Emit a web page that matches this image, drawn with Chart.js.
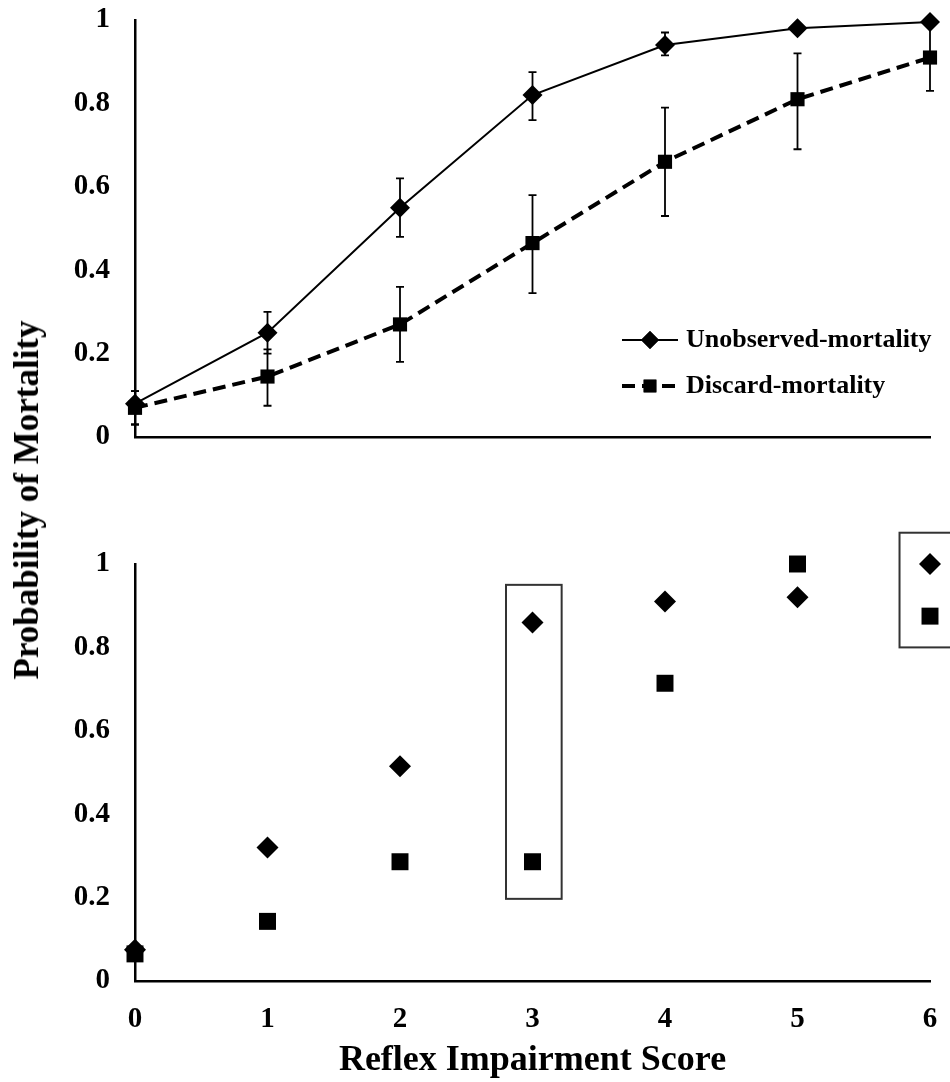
<!DOCTYPE html>
<html>
<head>
<meta charset="utf-8">
<script src="https://cdn.jsdelivr.net/npm/chart.js@4.4.0/dist/chart.umd.min.js"></script>
<style>
  html, body { margin: 0; padding: 0; background: #fff; }
  #wrap { position: relative; width: 950px; height: 1082px; overflow: hidden; }
  canvas { position: absolute; left: 0; }
  #top-chart { top: 0; }
  #bottom-chart { top: 520px; }
  .y-title {
    position: absolute; left: 27px; top: 500px;
    transform: translate(-50%, -50%) rotate(-90deg);
    font: bold 35px "Liberation Serif", serif;
    white-space: nowrap; color: #000;
  }
</style>
</head>
<body>
<div id="wrap">
  <canvas id="top-chart" width="950" height="460"></canvas>
  <canvas id="bottom-chart" width="950" height="562"></canvas>
  <div class="y-title">Probability of Mortality</div>
</div>
<script>
// --- Data ---
const scores = [0, 1, 2, 3, 4, 5, 6];
const yTicks = [0, 0.2, 0.4, 0.6, 0.8, 1];

// top panel: modelled curves with error bars
const unobservedModel = [0.08, 0.25, 0.55, 0.82, 0.94, 0.98, 0.995];
const unobservedLow   = [0.03, 0.20, 0.48, 0.76, 0.915, 0.98, 0.995];
const unobservedHigh  = [0.11, 0.30, 0.62, 0.875, 0.97, 0.98, 0.995];
const discardModel = [0.07, 0.145, 0.27, 0.465, 0.66, 0.81, 0.91];
const discardLow   = [0.03, 0.075, 0.18, 0.345, 0.53, 0.69, 0.83];
const discardHigh  = [0.11, 0.21, 0.36, 0.58, 0.79, 0.92, 0.99];

// bottom panel: observed proportions
const unobservedObserved = [0.075, 0.32, 0.515, 0.86, 0.91, 0.92, 1.0];
const discardObserved    = [0.065, 0.143, 0.286, 0.286, 0.714, 1.0, 0.875];

// highlight boxes in the bottom panel (data units)
const boxXMin = [2.8, 5.77];
const boxXMax = [3.22, 6.5];
const boxYMin = [0.197, 0.80];
const boxYMax = [0.95, 1.075];

const serif = "'Liberation Serif', 'Times New Roman', serif";
const toPoints = vals => scores.map((x, i) => ({ x: x, y: vals[i] }));

// --- Plugins ---
const errorBars = {
    id: 'errorBars',
    beforeDatasetsDraw(chart) {
        const { ctx, scales: { x, y } } = chart;
        const series = [[unobservedLow, unobservedHigh], [discardLow, discardHigh]];
        ctx.save();
        ctx.strokeStyle = '#000';
        ctx.lineWidth = 1.8;
        series.forEach(([low, high]) => {
            scores.forEach((s, i) => {
                if (high[i] <= low[i]) return;
                const px = x.getPixelForValue(s);
                const yl = y.getPixelForValue(low[i]);
                const yh = y.getPixelForValue(high[i]);
                ctx.beginPath();
                ctx.moveTo(px, yl); ctx.lineTo(px, yh);
                ctx.moveTo(px - 4, yl); ctx.lineTo(px + 4, yl);
                ctx.moveTo(px - 4, yh); ctx.lineTo(px + 4, yh);
                ctx.stroke();
            });
        });
        ctx.restore();
    }
};

const sideLegend = {
    id: 'sideLegend',
    afterDraw(chart) {
        const { ctx, chartArea } = chart;
        const left = chartArea.left + 487;
        const rows = [chartArea.top + 320, chartArea.top + 366];
        ctx.save();
        chart.data.datasets.forEach((ds, i) => {
            const yy = rows[i];
            ctx.beginPath();
            ctx.setLineDash(ds.borderDash || []);
            ctx.strokeStyle = ds.borderColor;
            ctx.lineWidth = ds.borderWidth;
            ctx.moveTo(left, yy); ctx.lineTo(left + 56, yy);
            ctx.stroke();
            ctx.setLineDash([]);
            ctx.fillStyle = '#000';
            Chart.helpers.drawPoint(ctx, { pointStyle: ds.pointStyle, radius: ds.pointRadius - 1, borderWidth: 0 }, left + 28, yy);
            ctx.fill();
            ctx.font = 'bold 26px ' + serif;
            ctx.textBaseline = 'middle';
            ctx.textAlign = 'left';
            ctx.fillText(ds.label, left + 64, yy);
        });
        ctx.restore();
    }
};

const boxes = {
    id: 'boxes',
    afterDatasetsDraw(chart) {
        const { ctx, scales: { x, y } } = chart;
        ctx.save();
        ctx.strokeStyle = '#333';
        ctx.lineWidth = 2;
        boxXMin.forEach((x0, i) => {
            const l = x.getPixelForValue(x0);
            const r = x.getPixelForValue(boxXMax[i]);
            const t = y.getPixelForValue(boxYMax[i]);
            const b = y.getPixelForValue(boxYMin[i]);
            ctx.strokeRect(l, t, r - l, b - t);
        });
        ctx.restore();
    }
};

// --- Shared axis options ---
const tickFont = { family: serif, weight: 'bold', size: 29 };
const axisBorder = { display: true, color: '#000', width: 2.5 };

function yAxis() {
    return {
        min: 0, max: 1,
        afterBuildTicks: s => { s.ticks = yTicks.map(v => ({ value: v })); },
        afterFit: s => { s.width = 135; s.paddingTop = 0; s.paddingBottom = 0; },
        grid: { display: false, drawTicks: false },
        border: axisBorder,
        ticks: { color: '#000', font: tickFont, padding: 25, callback: v => String(v) }
    };
}

// --- Top panel ---
new Chart(document.getElementById('top-chart'), {
    type: 'line',
    data: {
        datasets: [{
            label: 'Unobserved-mortality',
            data: toPoints(unobservedModel),
            borderColor: '#000',
            borderWidth: 2,
            pointStyle: 'rectRot',
            pointRadius: 10,
            pointBackgroundColor: '#000',
            pointBorderColor: '#000',
            pointBorderWidth: 0,
            tension: 0,
            clip: false
        }, {
            label: 'Discard-mortality',
            data: toPoints(discardModel),
            borderColor: '#000',
            borderWidth: 4,
            borderDash: [13, 7],
            pointStyle: 'rect',
            pointRadius: 10,
            pointBackgroundColor: '#000',
            pointBorderColor: '#000',
            pointBorderWidth: 0,
            tension: 0,
            clip: false
        }]
    },
    options: {
        responsive: false,
        animation: false,
        layout: { padding: { left: 0, right: 20, top: 20, bottom: 23 } },
        plugins: { legend: { display: false }, tooltip: { enabled: false } },
        scales: {
            x: {
                type: 'linear', min: 0, max: 6,
                afterFit: s => { s.height = 0; s.paddingLeft = 0; s.paddingRight = 0; },
                grid: { display: false, drawTicks: false },
                border: axisBorder,
                ticks: { display: false }
            },
            y: yAxis()
        }
    },
    plugins: [errorBars, sideLegend]
});

// --- Bottom panel ---
new Chart(document.getElementById('bottom-chart'), {
    type: 'scatter',
    data: {
        datasets: [{
            label: 'Unobserved-mortality',
            data: toPoints(unobservedObserved),
            pointStyle: 'rectRot',
            pointRadius: 11,
            pointBackgroundColor: '#000',
            pointBorderWidth: 0,
            clip: false
        }, {
            label: 'Discard-mortality',
            data: toPoints(discardObserved),
            pointStyle: 'rect',
            pointRadius: 12,
            pointBackgroundColor: '#000',
            pointBorderWidth: 0,
            clip: false
        }]
    },
    options: {
        responsive: false,
        animation: false,
        layout: { padding: { left: 0, right: 20, top: 44, bottom: 0 } },
        plugins: { legend: { display: false }, tooltip: { enabled: false } },
        scales: {
            x: {
                type: 'linear', min: 0, max: 6,
                afterBuildTicks: s => { s.ticks = scores.map(v => ({ value: v })); },
                afterFit: s => { s.height = 101; s.paddingLeft = 0; s.paddingRight = 0; },
                grid: { display: false, drawTicks: false },
                border: axisBorder,
                ticks: { color: '#000', font: tickFont, padding: 21, autoSkip: false, maxRotation: 0 },
                title: {
                    display: true,
                    text: 'Reflex Impairment Score',
                    color: '#000',
                    font: { family: serif, weight: 'bold', size: 36 },
                    padding: { top: 0, bottom: 0 }
                }
            },
            y: yAxis()
        }
    },
    plugins: [boxes]
});
</script>
</body>
</html>
